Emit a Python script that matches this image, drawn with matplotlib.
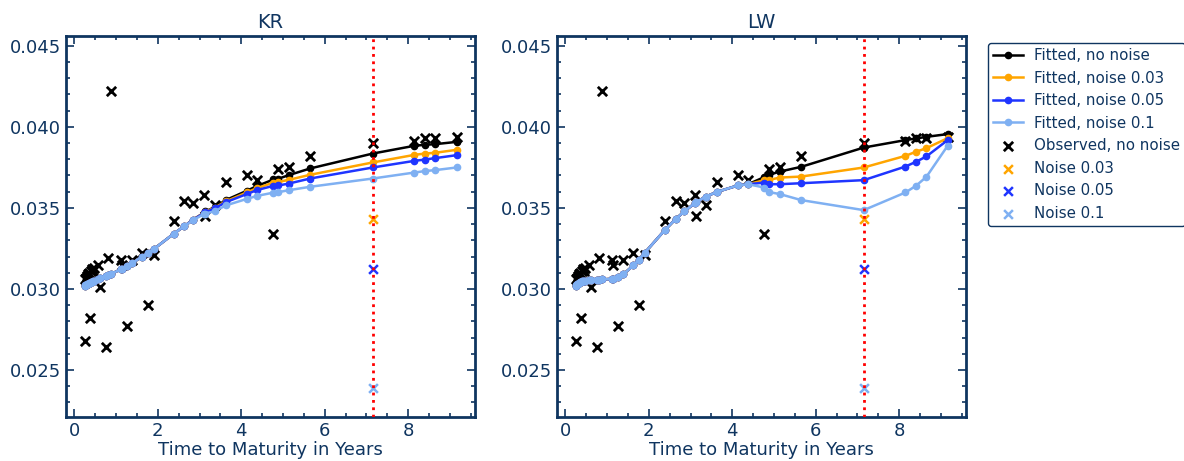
import numpy as np
import matplotlib.pyplot as plt

# maturities (years) and observed yields
mats = [0.25, 0.26, 0.28, 0.30, 0.32, 0.34, 0.36, 0.38, 0.40, 0.42, 0.45, 0.48,
        0.57, 0.62, 0.76, 0.80, 0.88, 1.12, 1.15, 1.26, 1.39, 1.63, 1.76, 1.90,
        2.38, 2.64, 2.85, 3.11, 3.14, 3.37, 3.63, 4.13, 4.38, 4.77, 4.89, 5.14,
        5.65, 7.15, 8.15, 8.40, 8.65, 9.16]
obs = [0.0306, 0.0268, 0.0307, 0.0308, 0.0309, 0.0308, 0.0310, 0.0282, 0.0311, 0.0312, 0.0311, 0.0313,
       0.0315, 0.0301, 0.0264, 0.0319, 0.0422, 0.0318, 0.0315, 0.0277, 0.0318, 0.0322, 0.0290, 0.0321,
       0.0342, 0.0354, 0.0353, 0.0358, 0.0345, 0.0352, 0.0366, 0.0370, 0.0367, 0.0334, 0.0374, 0.0375,
       0.0382, 0.0390, 0.0391, 0.0393, 0.0393, 0.0394]

# the one maturity that gets perturbed
t_noise = 7.15
noise_levels = ['0.03', '0.05', '0.1']
noisy_obs = [0.0343, 0.0312, 0.0239]

# KR fits
kr_fit = [
    [0.03020, 0.03022, 0.03025, 0.03028, 0.03030, 0.03033, 0.03036, 0.03038, 0.03040, 0.03043, 0.03046, 0.03050,
     0.03060, 0.03066, 0.03080, 0.03084, 0.03092, 0.03122, 0.03126, 0.03140, 0.03160, 0.03200, 0.03222, 0.03245,
     0.03340, 0.03388, 0.03428, 0.03470, 0.03478, 0.03505, 0.03548, 0.03605, 0.03635, 0.03675, 0.03680, 0.03702,
     0.03743, 0.03835, 0.03883, 0.03889, 0.03893, 0.03907],
    [0.03020, 0.03022, 0.03025, 0.03028, 0.03030, 0.03033, 0.03036, 0.03038, 0.03040, 0.03043, 0.03046, 0.03050,
     0.03060, 0.03066, 0.03080, 0.03084, 0.03092, 0.03122, 0.03126, 0.03140, 0.03160, 0.03200, 0.03222, 0.03245,
     0.03340, 0.03388, 0.03428, 0.03470, 0.03476, 0.03502, 0.03540, 0.03595, 0.03622, 0.03656, 0.03660, 0.03673,
     0.03704, 0.03780, 0.03827, 0.03835, 0.03840, 0.03858],
    [0.03020, 0.03022, 0.03025, 0.03028, 0.03030, 0.03033, 0.03036, 0.03038, 0.03040, 0.03043, 0.03046, 0.03050,
     0.03060, 0.03066, 0.03080, 0.03084, 0.03092, 0.03122, 0.03126, 0.03140, 0.03160, 0.03200, 0.03222, 0.03245,
     0.03340, 0.03388, 0.03428, 0.03468, 0.03472, 0.03498, 0.03535, 0.03585, 0.03610, 0.03636, 0.03638, 0.03650,
     0.03681, 0.03749, 0.03790, 0.03798, 0.03807, 0.03825],
    [0.03020, 0.03022, 0.03025, 0.03028, 0.03030, 0.03033, 0.03036, 0.03038, 0.03040, 0.03043, 0.03046, 0.03050,
     0.03060, 0.03066, 0.03080, 0.03084, 0.03092, 0.03122, 0.03126, 0.03140, 0.03160, 0.03200, 0.03222, 0.03245,
     0.03340, 0.03388, 0.03425, 0.03462, 0.03465, 0.03480, 0.03515, 0.03555, 0.03574, 0.03594, 0.03597, 0.03609,
     0.03630, 0.03681, 0.03718, 0.03727, 0.03733, 0.03749],
]

# LW fits
lw_fit = [
    [0.03020, 0.03023, 0.03028, 0.03032, 0.03036, 0.03039, 0.03042, 0.03044, 0.03046, 0.03048, 0.03050, 0.03052,
     0.03055, 0.03056, 0.03058, 0.03058, 0.03059, 0.03062, 0.03064, 0.03072, 0.03090, 0.03145, 0.03180, 0.03222,
     0.03362, 0.03430, 0.03478, 0.03530, 0.03536, 0.03570, 0.03598, 0.03638, 0.03646, 0.03690, 0.03704, 0.03724,
     0.03753, 0.03872, 0.03918, 0.03928, 0.03938, 0.03955],
    [0.03020, 0.03023, 0.03028, 0.03032, 0.03036, 0.03039, 0.03042, 0.03044, 0.03046, 0.03048, 0.03050, 0.03052,
     0.03055, 0.03056, 0.03058, 0.03058, 0.03059, 0.03062, 0.03064, 0.03072, 0.03090, 0.03145, 0.03180, 0.03222,
     0.03362, 0.03430, 0.03478, 0.03530, 0.03536, 0.03570, 0.03598, 0.03638, 0.03646, 0.03671, 0.03673, 0.03687,
     0.03693, 0.03749, 0.03821, 0.03846, 0.03868, 0.03930],
    [0.03020, 0.03023, 0.03028, 0.03032, 0.03036, 0.03039, 0.03042, 0.03044, 0.03046, 0.03048, 0.03050, 0.03052,
     0.03055, 0.03056, 0.03058, 0.03058, 0.03059, 0.03062, 0.03064, 0.03072, 0.03090, 0.03145, 0.03180, 0.03222,
     0.03362, 0.03430, 0.03478, 0.03530, 0.03536, 0.03570, 0.03598, 0.03638, 0.03646, 0.03656, 0.03646, 0.03646,
     0.03652, 0.03671, 0.03755, 0.03784, 0.03817, 0.03918],
    [0.03020, 0.03023, 0.03028, 0.03032, 0.03036, 0.03039, 0.03042, 0.03044, 0.03046, 0.03048, 0.03050, 0.03052,
     0.03055, 0.03056, 0.03058, 0.03058, 0.03059, 0.03062, 0.03064, 0.03072, 0.03090, 0.03145, 0.03180, 0.03222,
     0.03362, 0.03430, 0.03478, 0.03530, 0.03536, 0.03570, 0.03598, 0.03638, 0.03646, 0.03625, 0.03597, 0.03585,
     0.03548, 0.03486, 0.03595, 0.03636, 0.03691, 0.03883],
]

colors = ['black', 'orange', '#1f35ff', '#7fb0f2']
navy = '#0f3560'

plt.rcParams['font.size'] = 13
plt.rcParams['text.color'] = navy
plt.rcParams['axes.labelcolor'] = navy
plt.rcParams['xtick.color'] = navy
plt.rcParams['ytick.color'] = navy

fig = plt.figure(figsize=(11.84, 4.61), dpi=100)
ax1 = fig.add_axes([0.0557, 0.0954, 0.3455, 0.8265])
ax2 = fig.add_axes([0.4704, 0.0954, 0.3455, 0.8265])


def draw(ax, fits, title):
    ax.scatter(mats, obs, marker='x', color='black', s=45, linewidths=2, zorder=2,
               label='Observed, no noise')
    for i, lvl in enumerate(noise_levels):
        ax.scatter([t_noise], [noisy_obs[i]], marker='x', color=colors[i + 1], s=40,
                   linewidths=1.8, zorder=2, label='Noise ' + lvl)
    ax.plot(mats, fits[0], '-o', color=colors[0], lw=1.8, ms=4.5, zorder=3, label='Fitted, no noise')
    for i, lvl in enumerate(noise_levels):
        ax.plot(mats, fits[i + 1], '-o', color=colors[i + 1], lw=1.8, ms=4.5, zorder=3,
                label='Fitted, noise ' + lvl)
    ax.axvline(t_noise, color='red', ls=':', lw=2, zorder=4)

    ax.set_title(title, color=navy, fontsize=14)
    ax.set_xlabel('Time to Maturity in Years', labelpad=1)
    ax.set_xlim(-0.2, 9.6)
    ax.set_ylim(0.0221, 0.0456)
    ax.set_xticks([0, 2, 4, 6, 8])
    ax.set_xticks(np.arange(0, 9.6, 0.5), minor=True)
    ax.set_yticks([0.025, 0.030, 0.035, 0.040, 0.045])
    ax.set_yticks(np.arange(0.023, 0.0456, 0.001), minor=True)
    ax.yaxis.set_major_formatter(plt.FormatStrFormatter('%.3f'))
    ax.tick_params(which='both', direction='in', top=True, right=True, width=1.2)
    ax.tick_params(which='major', length=6)
    ax.tick_params(which='minor', length=3)
    for sp in ax.spines.values():
        sp.set_color(navy)
        sp.set_linewidth(2)


draw(ax1, kr_fit, 'KR')
draw(ax2, lw_fit, 'LW')

handles, labels = ax2.get_legend_handles_labels()
order = ['Fitted, no noise', 'Fitted, noise 0.03', 'Fitted, noise 0.05', 'Fitted, noise 0.1',
         'Observed, no noise', 'Noise 0.03', 'Noise 0.05', 'Noise 0.1']
hmap = dict(zip(labels, handles))
leg = fig.legend([hmap[k] for k in order], order, loc='upper left',
                 bbox_to_anchor=(988 / 1184, 1 - 43 / 461), borderaxespad=0,
                 fontsize=10.8, handlelength=2.0, handletextpad=0.7, borderpad=0.35,
                 framealpha=1)
leg.get_frame().set_edgecolor(navy)
for t in leg.get_texts():
    t.set_color(navy)

fig.savefig('out.png', dpi=100)
